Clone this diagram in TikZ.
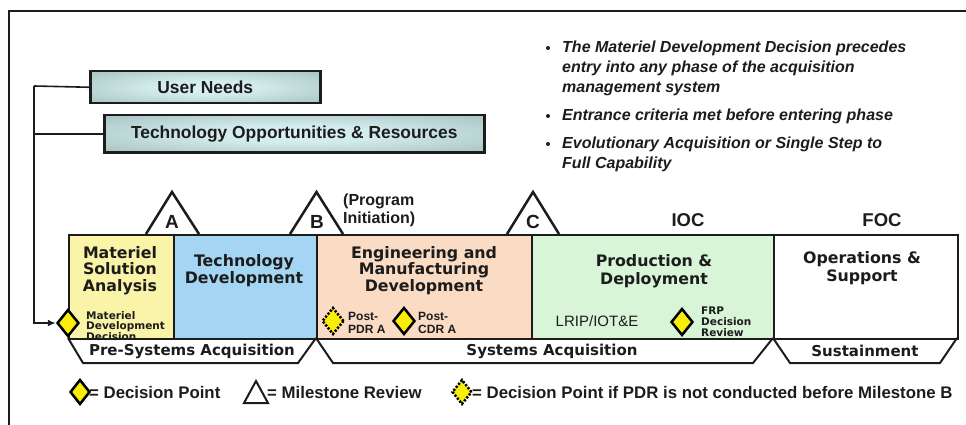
\documentclass[tikz,border=0pt]{standalone}
\usepackage{fontspec}
\setmainfont{Liberation Sans}
\newfontfamily\vfont{DejaVu Sans}
\usetikzlibrary{shapes.geometric,arrows.meta}
\definecolor{msac}{RGB}{250,244,168}
\definecolor{tdc}{RGB}{164,214,243}
\definecolor{emdc}{RGB}{250,219,196}
\definecolor{pdc}{RGB}{216,245,216}
\definecolor{dyel}{RGB}{248,238,10}
\definecolor{ink}{RGB}{28,28,28}
\pgfdeclareradialshading{needsh}{\pgfpoint{0bp}{0bp}}{rgb(0bp)=(0.86,0.95,0.95); rgb(12bp)=(0.82,0.92,0.92); rgb(50bp)=(0.56,0.67,0.67); rgb(100bp)=(0.56,0.67,0.67)}
\tikzset{
  frameline/.style={line width=2pt, draw=ink},
  need/.style={draw=ink, line width=2.5pt, shading=needsh, inner sep=0pt, anchor=north west,
    font=\bfseries\fontsize{17.4}{20}\selectfont, text=ink},
  phasebox/.style={draw=ink, line width=2pt, anchor=north west, inner sep=0pt},
  ttl/.style={font=\vfont\bfseries\fontsize{15.8}{16.5}\selectfont, align=center, text=ink, inner sep=0pt},
  tiny/.style={font=\vfont\bfseries\fontsize{10.5}{9.5}\selectfont, align=left, text=ink, inner sep=0pt},
  postlbl/.style={font=\bfseries\fontsize{12}{13.5}\selectfont, align=left, text=ink, inner sep=0pt},
  msline/.style={draw=ink, line width=2.5pt, line join=miter},
  mslet/.style={font=\bfseries\fontsize{19}{20}\selectfont, text=ink, inner sep=0pt},
  dpt/.style={diamond, draw=black, fill=dyel, line width=2.5pt, minimum width=22pt, minimum height=27pt, inner sep=0pt},
  dptdash/.style={dpt, dash pattern=on 2.2pt off 1.6pt},
  banner/.style={draw=ink, line width=2pt, line join=miter},
  bantxt/.style={font=\vfont\bfseries\fontsize{15}{16}\selectfont, text=ink, inner sep=0pt},
  bul/.style={font=\bfseries\itshape\fontsize{16}{20}\selectfont, align=left, text=ink, inner sep=0pt, anchor=base west},
  bdot/.style={circle, fill=ink, inner sep=0pt, minimum size=4pt},
  ioc/.style={font=\bfseries\fontsize{18.5}{20}\selectfont, text=ink, inner sep=0pt},
  leg/.style={font=\bfseries\fontsize{16.8}{18}\selectfont, text=ink, inner sep=0pt, anchor=west},
  conn/.style={draw=ink, line width=1.6pt}
}
\begin{document}
\begin{tikzpicture}[x=1pt,y=-1pt]
\useasboundingbox (0,0) rectangle (966,425);
% frame
\draw[frameline] (9,425) -- (9,11) -- (966,11);

% user needs boxes
\node[need, minimum width=230pt, minimum height=32pt] (un) at (89,70) {User Needs};
\node[need, minimum width=380pt, minimum height=37pt] (tor) at (103,114) {Technology Opportunities \& Resources};

% bullets (base anchor = baseline of last line)
\node[bdot] (d1) at (548,48) {};
\node[bul] (b1) at (562,92.5) {The Materiel Development Decision precedes\\entry into any phase of the acquisition\\management system};
\node[bdot] (d2) at (548,116) {};
\node[bul] (b2) at (562,120.5) {Entrance criteria met before entering phase};
\node[bdot] (d3) at (548,144) {};
\node[bul] (b3) at (562,168.5) {Evolutionary Acquisition or Single Step to\\Full Capability};

% phase boxes
\node[phasebox, fill=msac, minimum width=105pt, minimum height=104pt] (msa) at (68,234) {};
\node[phasebox, fill=tdc, minimum width=143pt, minimum height=104pt] (td) at (173,234) {};
\node[phasebox, fill=emdc, minimum width=215pt, minimum height=104pt] (emd) at (316,234) {};
\node[phasebox, fill=pdc, minimum width=242pt, minimum height=104pt] (pd) at (531,234) {};
\node[phasebox, fill=white, minimum width=184pt, minimum height=104pt] (os) at (773,234) {};

% phase titles
\node[ttl] (tmsa) at (120,270.5) {Materiel\\Solution\\Analysis};
\node[ttl] (ttd) at (244,270.5) {Technology\\Development};
\node[ttl] (temd) at (424,270.5) {Engineering and\\Manufacturing\\Development};
\node[ttl, font=\vfont\bfseries\fontsize{15.8}{18.5}\selectfont] (tpd) at (654,271) {Production \&\\Deployment};
\node[ttl, font=\vfont\bfseries\fontsize{15.8}{18.5}\selectfont] (tos) at (862,268) {Operations \&\\Support};

% milestones
\draw[msline] (146,234) -- (172,192) -- (199,234);
\node[mslet] (ma) at (172,222) {A};
\draw[msline] (290,234) -- (316.5,192) -- (343,234);
\node[mslet] (mb) at (317,222) {B};
\draw[msline] (507,234) -- (533,192) -- (559,234);
\node[mslet] (mc) at (533,222) {C};
\node[font=\bfseries\fontsize{16}{18}\selectfont, align=left, text=ink, inner sep=0pt, anchor=west] (pi) at (343,210) {(Program\\Initiation)};
\node[ioc] (iocl) at (688,220) {IOC};
\node[ioc] (focl) at (882,220) {FOC};

% banners
\draw[banner] (68,338) -- (83,363) -- (298,363) -- (316,338);
\node[bantxt] (pre) at (192,351) {Pre-Systems Acquisition};
\draw[banner] (316,338) -- (333,363) -- (753,363) -- (773,338);
\node[bantxt] (sys) at (552,351) {Systems Acquisition};
\draw[banner] (773,338) -- (790,363) -- (940,363) -- (957,338);
\node[bantxt] (sus) at (865,351) {Sustainment};

% decision points
\node[dpt] (mdd) at (68,323) {};
\node[tiny, anchor=west] (mddt) at (86,326) {Materiel\\Development\\Decision};
\node[dptdash] (pdr) at (333,321) {};
\node[postlbl, anchor=west] (pdrt) at (348,323) {Post-\\PDR A};
\node[dpt] (cdr) at (404,321) {};
\node[postlbl, anchor=west] (cdrt) at (418,323) {Post-\\CDR A};
\node[font=\fontsize{15}{16}\selectfont, text=ink, inner sep=0pt] (lrip) at (597,321) {LRIP/IOT\&E};
\node[dpt] (frp) at (682,322) {};
\node[tiny, anchor=west, font=\vfont\bfseries\fontsize{10.5}{11}\selectfont] (frpt) at (701,322) {FRP\\Decision\\Review};

% connectors
\coordinate (trunk) at (34,86);
\draw[conn] (un.west) -- (trunk);
\draw[conn] (tor.west) -- (tor.west -| trunk);
\draw[conn, -{Latex[length=8pt,width=7pt]}] (trunk) |- (mdd.west);

% legend
\node[dpt, minimum width=20pt, minimum height=25pt] (lg1) at (80,392) {};
\node[leg] (lg1t) at (89,392) {= Decision Point};
\draw[draw=ink, line width=2pt, line join=miter] (244,403) -- (256,381) -- (268,403) -- cycle;
\node[leg] (lg2t) at (267,392) {= Milestone Review};
\node[dptdash, minimum width=20pt, minimum height=25pt] (lg3) at (462,392) {};
\node[leg] (lg3t) at (472,392) {= Decision Point if PDR is not conducted before Milestone B};
\end{tikzpicture}
\end{document}
